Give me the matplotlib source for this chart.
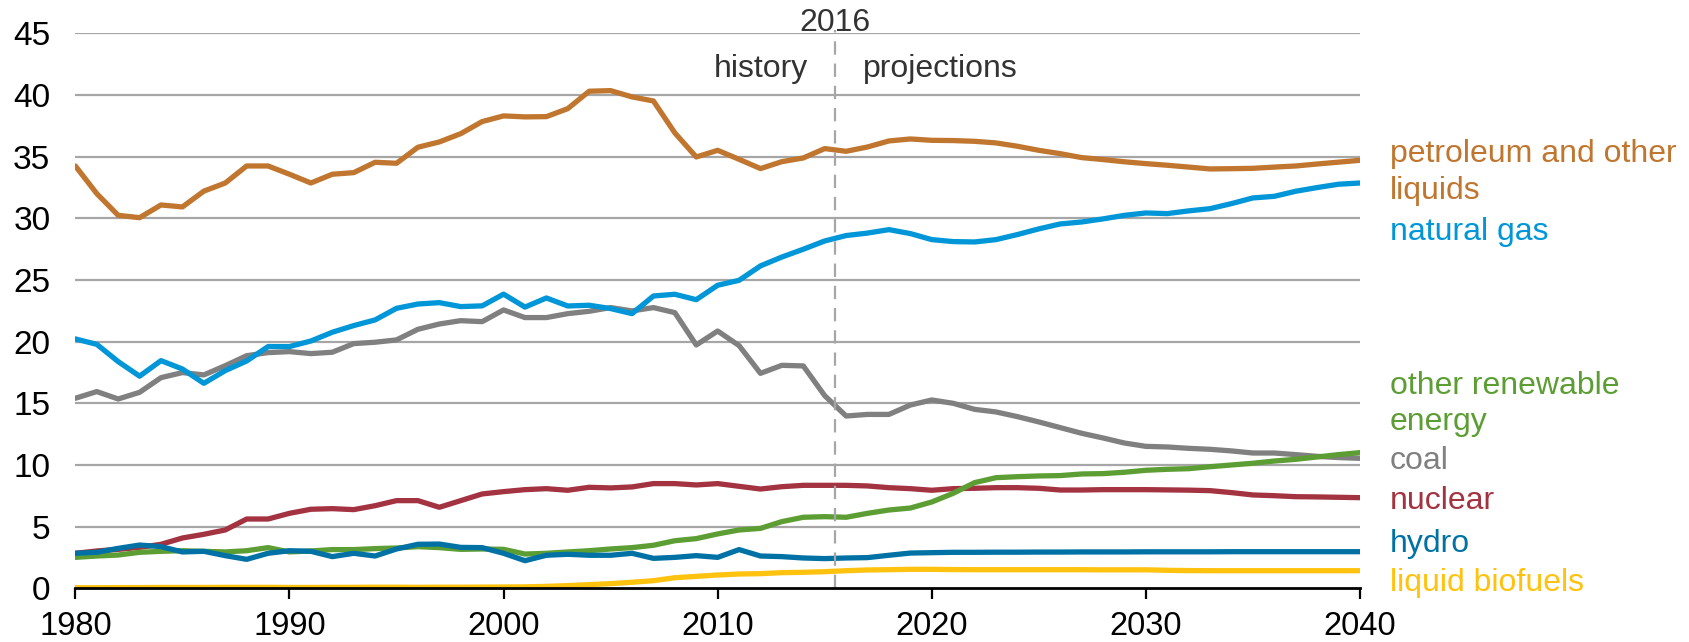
import matplotlib
matplotlib.use("Agg")
import matplotlib.pyplot as plt
import numpy as np

plt.rcParams['font.family'] = ['Liberation Sans', 'DejaVu Sans']

years = list(range(1980, 2041))

petroleum = [34.24, 32.0, 30.24, 30.05, 31.08, 30.92, 32.2, 32.86, 34.24, 34.24,
             33.57, 32.86, 33.57, 33.7, 34.54, 34.46, 35.76, 36.19, 36.86, 37.84,
             38.3, 38.22, 38.24, 38.89, 40.3, 40.35, 39.84, 39.51, 36.92, 34.97,
             35.51, 34.78, 34.03, 34.59, 34.89, 35.65, 35.43, 35.78, 36.27, 36.43,
             36.32, 36.3, 36.24, 36.11, 35.84, 35.51, 35.24, 34.92, 34.76, 34.58,
             34.43, 34.3, 34.15, 34.0, 34.02, 34.05, 34.15, 34.24, 34.4, 34.55, 34.7]

natural_gas = [20.22, 19.78, 18.38, 17.2, 18.46, 17.78, 16.62, 17.65, 18.43, 19.6,
               19.6, 20.05, 20.76, 21.3, 21.76, 22.7, 23.05, 23.16, 22.84, 22.9,
               23.85, 22.8, 23.54, 22.89, 22.95, 22.68, 22.27, 23.7, 23.84, 23.4,
               24.57, 24.97, 26.14, 26.86, 27.49, 28.16, 28.6, 28.8, 29.08, 28.76,
               28.27, 28.11, 28.08, 28.27, 28.68, 29.14, 29.54, 29.7, 29.95, 30.24,
               30.43, 30.38, 30.6, 30.78, 31.19, 31.65, 31.78, 32.19, 32.49, 32.76, 32.86]

coal = [15.41, 15.95, 15.35, 15.89, 17.08, 17.49, 17.3, 18.05, 18.86, 19.11,
        19.19, 19.03, 19.14, 19.84, 19.95, 20.14, 21.0, 21.43, 21.7, 21.62,
        22.57, 21.95, 21.95, 22.27, 22.46, 22.76, 22.49, 22.76, 22.35, 19.73,
        20.86, 19.68, 17.43, 18.08, 18.03, 15.62, 13.97, 14.1, 14.1, 14.86,
        15.27, 15.0, 14.51, 14.3, 13.92, 13.49, 13.03, 12.57, 12.19, 11.78,
        11.51, 11.46, 11.35, 11.27, 11.14, 10.97, 10.97, 10.84, 10.7, 10.6, 10.54]

other_renewable = [2.51, 2.62, 2.7, 2.92, 3.0, 3.05, 3.0, 2.95, 3.05, 3.3,
                   2.95, 3.03, 3.14, 3.14, 3.22, 3.27, 3.38, 3.3, 3.16, 3.19,
                   3.16, 2.78, 2.84, 2.95, 3.05, 3.19, 3.3, 3.49, 3.86, 4.03,
                   4.41, 4.73, 4.86, 5.41, 5.76, 5.81, 5.76, 6.08, 6.35, 6.51,
                   7.0, 7.7, 8.57, 8.97, 9.05, 9.11, 9.14, 9.27, 9.3, 9.41,
                   9.57, 9.65, 9.7, 9.86, 10.0, 10.14, 10.32, 10.46, 10.65, 10.84, 11.0]

nuclear = [2.84, 3.03, 3.16, 3.32, 3.57, 4.08, 4.38, 4.73, 5.62, 5.62,
           6.08, 6.41, 6.46, 6.38, 6.7, 7.11, 7.11, 6.57, 7.11, 7.65,
           7.84, 8.0, 8.08, 7.95, 8.19, 8.14, 8.22, 8.49, 8.49, 8.38,
           8.49, 8.27, 8.05, 8.24, 8.35, 8.35, 8.35, 8.3, 8.16, 8.08,
           7.95, 8.08, 8.11, 8.16, 8.16, 8.11, 7.97, 7.97, 8.0, 8.0,
           8.0, 7.98, 7.96, 7.92, 7.76, 7.57, 7.51, 7.43, 7.41, 7.38, 7.35]

hydro = [2.84, 2.92, 3.24, 3.51, 3.38, 2.95, 3.0, 2.65, 2.35, 2.84,
         3.05, 3.0, 2.57, 2.84, 2.62, 3.19, 3.57, 3.59, 3.32, 3.3,
         2.84, 2.24, 2.68, 2.76, 2.68, 2.68, 2.84, 2.43, 2.51, 2.65,
         2.51, 3.14, 2.62, 2.57, 2.46, 2.41, 2.46, 2.49, 2.68, 2.86,
         2.89, 2.92, 2.92, 2.93, 2.93, 2.94, 2.94, 2.95, 2.95, 2.95,
         2.96, 2.96, 2.96, 2.96, 2.97, 2.97, 2.97, 2.97, 2.97, 2.97, 2.97]

biofuels = [0.05, 0.05, 0.06, 0.06, 0.07, 0.07, 0.07, 0.08, 0.08, 0.08,
            0.07, 0.07, 0.08, 0.08, 0.09, 0.09, 0.08, 0.09, 0.09, 0.1,
            0.11, 0.12, 0.16, 0.22, 0.3, 0.38, 0.49, 0.62, 0.86, 0.97,
            1.08, 1.16, 1.19, 1.27, 1.3, 1.35, 1.43, 1.49, 1.51, 1.54,
            1.54, 1.52, 1.51, 1.51, 1.51, 1.51, 1.51, 1.51, 1.5, 1.5,
            1.5, 1.46, 1.44, 1.43, 1.43, 1.43, 1.43, 1.43, 1.43, 1.43, 1.43]

series_names = ["petroleum and other\nliquids", "natural gas", "other renewable\nenergy",
                "coal", "nuclear", "hydro", "liquid biofuels"]
series_colors = ["#C0762F", "#0096D7", "#5D9E34", "#808080", "#A33340", "#0071A4", "#FFC20E"]
label_y = [33.7, 28.86, 14.95, 10.35, 7.12, 3.56, 0.42]

x_ticks = [1980, 1990, 2000, 2010, 2020, 2030, 2040]
y_ticks = [0, 5, 10, 15, 20, 25, 30, 35, 40, 45]
divider_year = 2015.5

fig = plt.figure(figsize=(16.9, 6.42), dpi=100)
ax = fig.add_axes([0.0446, 0.0836, 0.7601, 0.8646])

for v in y_ticks[1:]:
    ax.axhline(v, color="#A6A6A6", lw=1.6, zorder=1)

data_order = [(coal, 3), (natural_gas, 1), (petroleum, 0), (nuclear, 4),
              (other_renewable, 2), (hydro, 5), (biofuels, 6)]
for vals, idx in data_order:
    ax.plot(years, vals, color=series_colors[idx], lw=3.8, zorder=3,
            solid_capstyle='round', solid_joinstyle='round')

ax.plot([divider_year, divider_year], [0, 45.3], color="#A6A6A6", lw=1.6,
        ls=(0, (6, 4)), zorder=4, clip_on=False)

ax.set_xlim(1980, 2040)
ax.set_ylim(0, 45)
ax.set_xticks(x_ticks)
ax.set_yticks(y_ticks)
ax.tick_params(axis='x', direction='out', length=8, width=1.6, color='black',
               labelsize=23.5, pad=8)
ax.tick_params(axis='y', length=0, labelsize=24, pad=18)
for s in ['top', 'right', 'left']:
    ax.spines[s].set_visible(False)
ax.spines['bottom'].set_linewidth(2.0)
ax.spines['bottom'].set_zorder(5)

ax.text(divider_year, 45.8, "2016", ha='center', va='center', fontsize=23, color="#333333")
ax.text(divider_year - 1.3, 42.1, "history", ha='right', va='center', fontsize=23, color="#333333")
ax.text(divider_year + 1.3, 42.1, "projections", ha='left', va='center', fontsize=23, color="#333333")

for name, col, ly in zip(series_names, series_colors, label_y):
    ax.text(2041.4, ly, name, ha='left', va='center', fontsize=23, color=col,
            linespacing=1.28, clip_on=False)

fig.savefig("out.png", dpi=100)
